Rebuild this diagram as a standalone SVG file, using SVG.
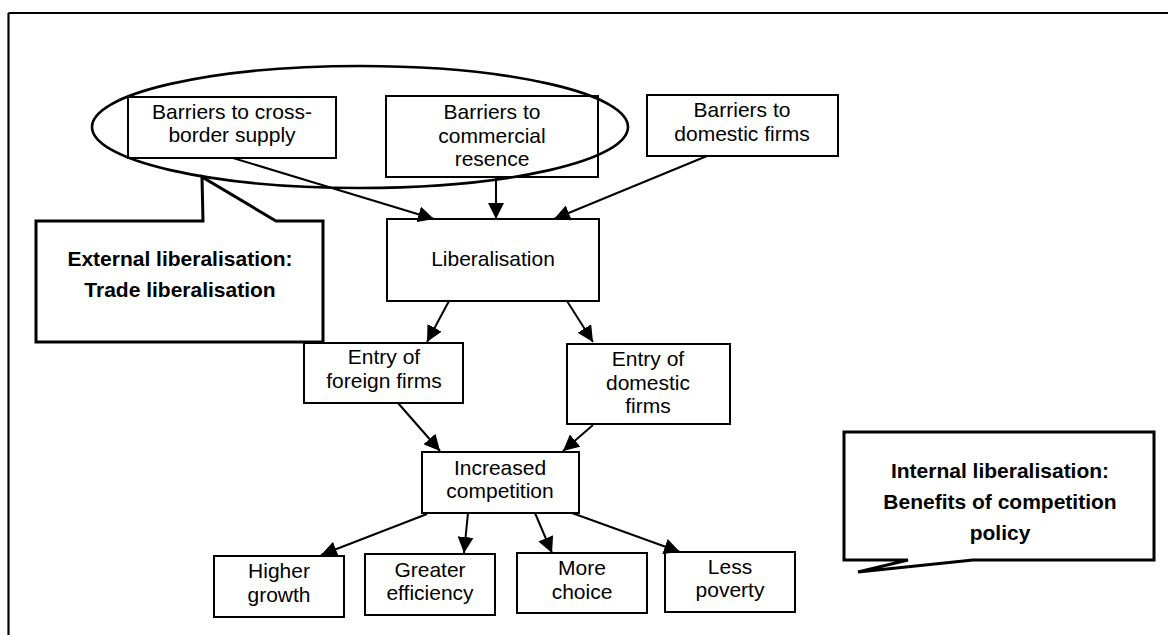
<svg xmlns="http://www.w3.org/2000/svg" width="1168" height="635" viewBox="0 0 1168 635">
<style>
.box{fill:#fff;stroke:#000;stroke-width:2}
.t{font-family:"Liberation Sans",Arial,sans-serif;font-size:21px;text-anchor:middle;fill:#000}
.b{font-weight:bold}
.call{fill:#fff;stroke:#000;stroke-width:3;stroke-linejoin:miter}
.con{stroke:#000;stroke-width:2;fill:none;marker-end:url(#ah)}
</style>
<defs>
<marker id="ah" markerUnits="userSpaceOnUse" markerWidth="16" markerHeight="16" refX="16" refY="8" orient="auto">
<path d="M0,0 L16,8 L0,16 Z" fill="#000"/>
</marker>
</defs>
<rect width="1168" height="635" fill="#fff"/>
<g id="frame" stroke="#000" stroke-width="2.2">
<line x1="8.5" y1="13" x2="1168" y2="13"/>
<line x1="8.5" y1="13" x2="8.5" y2="635"/>
</g>
<g id="n-crossborder">
<rect class="box" x="128" y="97" width="208" height="61"/>
<text class="t" x="232" y="119">Barriers to cross-</text>
<text class="t" x="232" y="142">border supply</text>
</g>
<g id="n-commercial">
<rect class="box" x="386" y="96" width="212" height="81"/>
<text class="t" x="492" y="119">Barriers to</text>
<text class="t" x="492" y="143">commercial</text>
<text class="t" x="492" y="166">resence</text>
</g>
<g id="n-domestic">
<rect class="box" x="647" y="95" width="191" height="61"/>
<text class="t" x="742" y="117">Barriers to</text>
<text class="t" x="742" y="141">domestic firms</text>
</g>
<g id="n-ellipse">
<ellipse cx="360" cy="127" rx="268" ry="61" fill="none" stroke="#000" stroke-width="2.6"/>
</g>
<g id="n-external">
<path class="call" d="M36,221 L203,221 L202,177 L276,221 L323,221 L323,342 L36,342 Z"/>
<text class="t b" x="180" y="266">External liberalisation:</text>
<text class="t b" x="180" y="297">Trade liberalisation</text>
</g>
<g id="n-lib">
<rect class="box" x="387" y="219" width="212" height="82"/>
<text class="t" x="493" y="266">Liberalisation</text>
</g>
<g id="n-entryforeign">
<rect class="box" x="304" y="343" width="159" height="60"/>
<text class="t" x="384" y="364">Entry of</text>
<text class="t" x="384" y="388">foreign firms</text>
</g>
<g id="n-entrydomestic">
<rect class="box" x="567" y="344" width="163" height="80"/>
<text class="t" x="648" y="366">Entry of</text>
<text class="t" x="648" y="390">domestic</text>
<text class="t" x="648" y="413">firms</text>
</g>
<g id="n-competition">
<rect class="box" x="422" y="452" width="157" height="61"/>
<text class="t" x="500" y="475">Increased</text>
<text class="t" x="500" y="498">competition</text>
</g>
<g id="n-growth">
<rect class="box" x="214" y="556" width="130" height="61"/>
<text class="t" x="279" y="578">Higher</text>
<text class="t" x="279" y="602">growth</text>
</g>
<g id="n-efficiency">
<rect class="box" x="365" y="554" width="130" height="61"/>
<text class="t" x="430" y="577">Greater</text>
<text class="t" x="430" y="600">efficiency</text>
</g>
<g id="n-choice">
<rect class="box" x="517" y="553" width="130" height="60"/>
<text class="t" x="582" y="575">More</text>
<text class="t" x="582" y="599">choice</text>
</g>
<g id="n-poverty">
<rect class="box" x="665" y="552" width="130" height="60"/>
<text class="t" x="730" y="574">Less</text>
<text class="t" x="730" y="597">poverty</text>
</g>
<g id="n-internal">
<path class="call" d="M844,432 L1154,432 L1154,560 L973,560 L858,572 L908,560 L844,560 Z"/>
<text class="t b" x="1000" y="478">Internal liberalisation:</text>
<text class="t b" x="1000" y="509">Benefits of competition</text>
<text class="t b" x="1000" y="540">policy</text>
</g>
<g id="connectors">
<line class="con" x1="233" y1="158" x2="434" y2="219"/>
<line class="con" x1="496" y1="177" x2="496" y2="219"/>
<line class="con" x1="707" y1="156" x2="554" y2="219"/>
<line class="con" x1="449" y1="301" x2="427" y2="342"/>
<line class="con" x1="567" y1="301" x2="593" y2="342"/>
<line class="con" x1="398" y1="403" x2="440" y2="451"/>
<line class="con" x1="593" y1="425" x2="563" y2="451"/>
<line class="con" x1="427" y1="514" x2="321" y2="555"/>
<line class="con" x1="468" y1="513" x2="464" y2="553"/>
<line class="con" x1="535" y1="513" x2="552" y2="553"/>
<line class="con" x1="572" y1="513" x2="680" y2="552"/>
</g>
</svg>
